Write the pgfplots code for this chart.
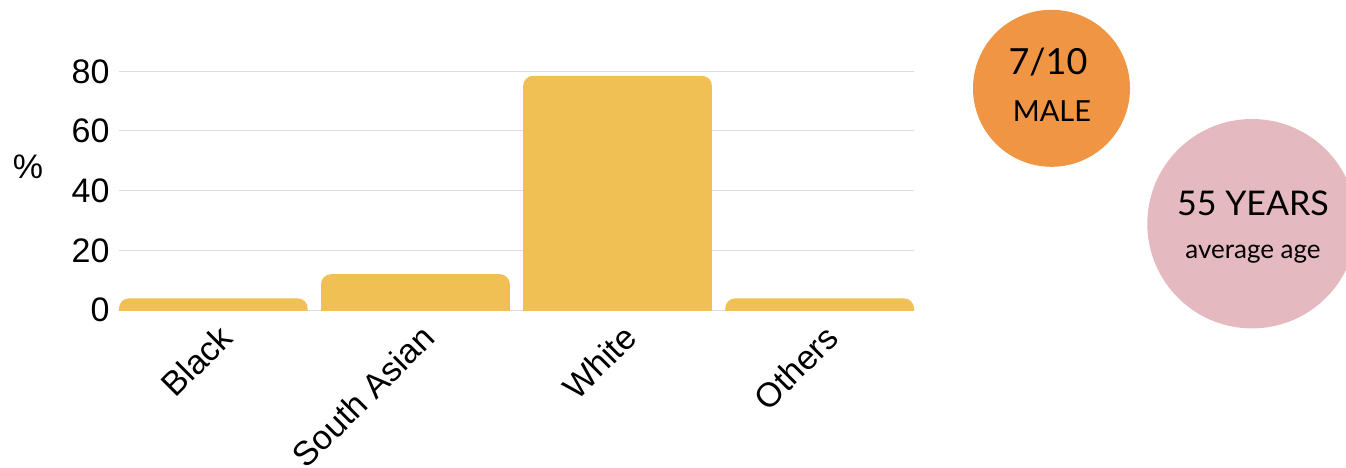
\documentclass[border=0pt]{standalone}
\usepackage{pgfplots}
\pgfplotsset{compat=1.18}
\usepackage{fontspec}
\setmainfont{Liberation Sans}
\newfontfamily\gill{Lato}
\definecolor{barc}{HTML}{F0C055}
\definecolor{orangec}{HTML}{F09543}
\definecolor{pinkc}{HTML}{E5B9C0}
\definecolor{gridc}{HTML}{DDDDDD}
\begin{document}
\begin{tikzpicture}
\useasboundingbox (-119bp,-158bp) rectangle (1227bp,310bp);
\clip (-119bp,-158bp) rectangle (1227bp,310bp);
\begin{axis}[
  scale only axis, width=795bp, height=238.7bp,
  xmin=-0.467, xmax=3.467, ymin=0, ymax=80,
  xtick={0,1,2,3}, xticklabels={Black,South Asian,White,Others},
  ytick={0,20,40,60,80},
  ymajorgrids, grid style={gridc, line width=1bp},
  axis line style={draw=none}, major tick length=0pt,
  tick label style={font=\fontsize{34bp}{40bp}\selectfont},
  /pgf/number format/assume math mode=true,
  xticklabel style={xshift=15bp, yshift=-19bp, rotate=45, anchor=east},
  yticklabel style={xshift=-6bp},
  ylabel={\%},
  ylabel style={rotate=-90, font=\fontsize{34bp}{40bp}\selectfont, at={(axis description cs:-0.1145,0.601)}, anchor=center},
]
% Black
\addplot[fill=barc, draw=none, rounded corners=10bp] coordinates {(-0.467,-8) (-0.467,3.9) (0.467,3.9) (0.467,-8)} -- cycle;
% South Asian
\addplot[fill=barc, draw=none, rounded corners=10bp] coordinates {(0.533,-8) (0.533,12) (1.467,12) (1.467,-8)} -- cycle;
% White
\addplot[fill=barc, draw=none, rounded corners=10bp] coordinates {(1.533,-8) (1.533,78.5) (2.467,78.5) (2.467,-8)} -- cycle;
% Others
\addplot[fill=barc, draw=none, rounded corners=10bp] coordinates {(2.533,-8) (2.533,3.9) (3.467,3.9) (3.467,-8)} -- cycle;
\end{axis}
\fill[orangec] (932.5bp,221.7bp) circle (78.5bp);
\node[font=\gill\fontsize{36bp}{40bp}\selectfont, anchor=base, inner sep=0pt] at (929bp,235bp) {7/10};
\node[font=\gill\fontsize{29bp}{34bp}\selectfont, anchor=base, inner sep=0pt] at (933bp,188bp) {MALE};
\fill[pinkc] (1133bp,86.3bp) circle (104.7bp);
\node[font=\gill\fontsize{34bp}{40bp}\selectfont, anchor=base, inner sep=0pt] at (1134bp,94bp) {55 YEARS};
\node[font=\gill\fontsize{26bp}{30bp}\selectfont, anchor=base, inner sep=0pt] at (1134bp,51bp) {average age};
\end{tikzpicture}
\end{document}
